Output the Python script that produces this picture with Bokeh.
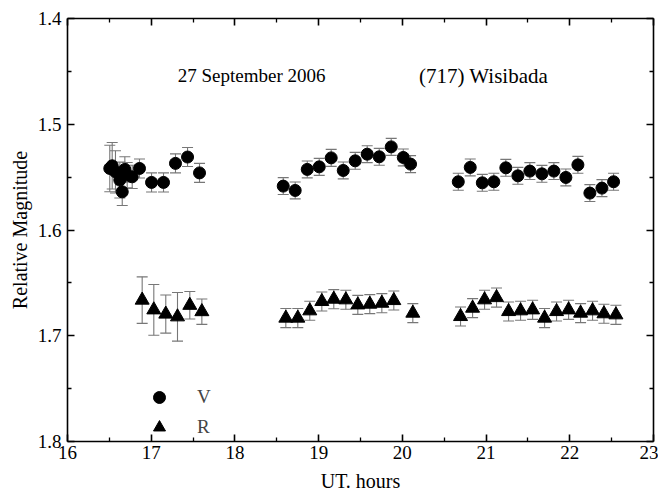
from bokeh.plotting import figure
from bokeh.models import (Range1d, LinearAxis, ColumnDataSource, Whisker, TeeHead,
                          Label, Legend, LegendItem, CustomJSTickFormatter, FixedTicker)
from bokeh.embed import file_html
from bokeh.resources import INLINE

# ---- data ----
v_hours = [16.505, 16.534, 16.573, 16.625, 16.654, 16.685, 16.713, 16.773, 16.860,
           17.004, 17.147, 17.290, 17.434, 17.577,
           18.577, 18.720, 18.864, 19.007, 19.150, 19.294, 19.437, 19.580, 19.724,
           19.867, 20.011, 20.098,
           20.668, 20.811, 20.955, 21.093, 21.236, 21.380, 21.523, 21.667, 21.810,
           21.953, 22.097, 22.240, 22.384, 22.523]
v_mag = [1.5418, 1.5393, 1.5450, 1.5528, 1.5639, 1.5427, 1.5481, 1.5497, 1.5418,
         1.5550, 1.5550, 1.5370, 1.5310, 1.5460,
         1.5585, 1.5626, 1.5427, 1.5403, 1.5318, 1.5437, 1.5346, 1.5283, 1.5308,
         1.5214, 1.5314, 1.5377,
         1.5544, 1.5408, 1.5554, 1.5544, 1.5412, 1.5488, 1.5443, 1.5469, 1.5443,
         1.5503, 1.5384, 1.5651, 1.5604, 1.5544]
v_err = [0.022, 0.022, 0.020, 0.017, 0.013, 0.012, 0.012, 0.011, 0.009,
         0.009, 0.009, 0.009, 0.009, 0.009,
         0.008, 0.008, 0.008, 0.008, 0.008, 0.008, 0.008, 0.008, 0.008,
         0.008, 0.008, 0.008,
         0.008, 0.008, 0.008, 0.008, 0.008, 0.008, 0.008, 0.008, 0.008,
         0.008, 0.008, 0.008, 0.008, 0.008]

r_hours = [16.892, 17.031, 17.174, 17.314, 17.461, 17.605,
           18.608, 18.751, 18.894, 19.038, 19.181, 19.325, 19.468, 19.611, 19.755,
           19.898, 20.125,
           20.695, 20.839, 20.982, 21.125, 21.269, 21.412, 21.556, 21.699, 21.842,
           21.986, 22.129, 22.272, 22.408, 22.551]
r_mag = [1.6663, 1.6755, 1.6795, 1.6821, 1.6712, 1.6772,
         1.6833, 1.6833, 1.6764, 1.6676, 1.6654, 1.6660, 1.6708, 1.6701, 1.6692,
         1.6667, 1.6786,
         1.6818, 1.6739, 1.6660, 1.6639, 1.6771, 1.6764, 1.6755, 1.6833, 1.6771,
         1.6755, 1.6786, 1.6764, 1.6792, 1.6802]
r_err = [0.022, 0.024, 0.018, 0.023, 0.013, 0.012,
         0.009, 0.009, 0.009, 0.009, 0.009, 0.009, 0.009, 0.009, 0.009,
         0.009, 0.009,
         0.009, 0.009, 0.009, 0.009, 0.009, 0.009, 0.009, 0.009, 0.009,
         0.009, 0.009, 0.009, 0.009, 0.009]

x_ticks = [16, 17, 18, 19, 20, 21, 22, 23]
y_ticks = [1.4, 1.5, 1.6, 1.7, 1.8]
date_text = "27 September 2006"
object_text = "(717) Wisibada"

FONT = "Liberation Serif"

p = figure(width=658, height=494, output_backend="svg", toolbar_location=None,
           x_range=Range1d(16, 23), y_range=Range1d(1.8, 1.4),
           min_border_left=67, min_border_right=5, min_border_top=18, min_border_bottom=52,
           x_axis_label="UT. hours", y_axis_label="Relative Magnitude")
p.grid.visible = False
p.outline_line_color = None
p.background_fill_color = "white"
p.border_fill_color = "white"

def style_axis(ax, ticks, labels=True):
    ax.ticker = FixedTicker(ticks=ticks,
                            minor_ticks=[t + (ticks[1] - ticks[0]) / 2 for t in ticks[:-1]])
    ax.axis_line_color = "black"
    ax.axis_line_width = 1.6
    ax.major_tick_in = 7
    ax.major_tick_out = 0
    ax.minor_tick_in = 4
    ax.minor_tick_out = 0
    ax.major_tick_line_width = 1.6
    ax.minor_tick_line_width = 1.3
    ax.major_tick_line_color = "black"
    ax.minor_tick_line_color = "black"
    if labels:
        ax.major_label_text_font = FONT
        ax.major_label_text_font_size = "19px"
        ax.major_label_text_color = "black"
        ax.axis_label_text_font = FONT
        ax.axis_label_text_font_size = "20px"
        ax.axis_label_text_font_style = "normal"
        ax.axis_label_text_color = "black"
    else:
        ax.formatter = CustomJSTickFormatter(code="return ''")
        ax.major_label_standoff = 0

style_axis(p.xaxis[0], x_ticks)
style_axis(p.yaxis[0], y_ticks)
p.xaxis[0].major_label_standoff = 4
p.xaxis[0].axis_label_standoff = 8
p.yaxis[0].major_label_standoff = 6
p.yaxis[0].axis_label_standoff = 4

top = LinearAxis()
right = LinearAxis()
style_axis(top, x_ticks, labels=False)
style_axis(right, y_ticks, labels=False)
p.add_layout(top, "above")
p.add_layout(right, "right")

v_src = ColumnDataSource(dict(x=v_hours, y=v_mag,
                              lo=[m - e for m, e in zip(v_mag, v_err)],
                              hi=[m + e for m, e in zip(v_mag, v_err)]))
r_src = ColumnDataSource(dict(x=r_hours, y=r_mag,
                              lo=[m - e for m, e in zip(r_mag, r_err)],
                              hi=[m + e for m, e in zip(r_mag, r_err)]))

for src in (v_src, r_src):
    w = Whisker(source=src, base="x", lower="lo", upper="hi", dimension="height",
                line_color="#777777", line_width=1.1,
                upper_head=TeeHead(size=11, line_color="#777777", line_width=1.1),
                lower_head=TeeHead(size=11, line_color="#777777", line_width=1.1))
    p.add_layout(w)

rv = p.scatter("x", "y", source=v_src, marker="circle", size=12,
               fill_color="black", line_color="black")
rr = p.scatter("x", "y", source=r_src, marker="triangle", size=14,
               fill_color="black", line_color="black")

legend = Legend(items=[LegendItem(label="V", renderers=[rv]),
                       LegendItem(label="R", renderers=[rr])],
                location=(67, -11), orientation="vertical",
                glyph_width=30, glyph_height=30, label_standoff=23, spacing=-5,
                label_text_font=FONT, label_text_font_size="19px",
                border_line_alpha=0, background_fill_alpha=0)
p.add_layout(legend, "center")

p.add_layout(Label(x=18.2, y=1.454, text=date_text, text_font=FONT,
                   text_font_size="19px", text_align="center", text_baseline="middle",
                   text_color="black"))
p.add_layout(Label(x=20.97, y=1.454, text=object_text, text_font=FONT,
                   text_font_size="21px", text_align="center", text_baseline="middle",
                   text_color="black"))

open("out.html", "w").write(file_html(p, INLINE))
